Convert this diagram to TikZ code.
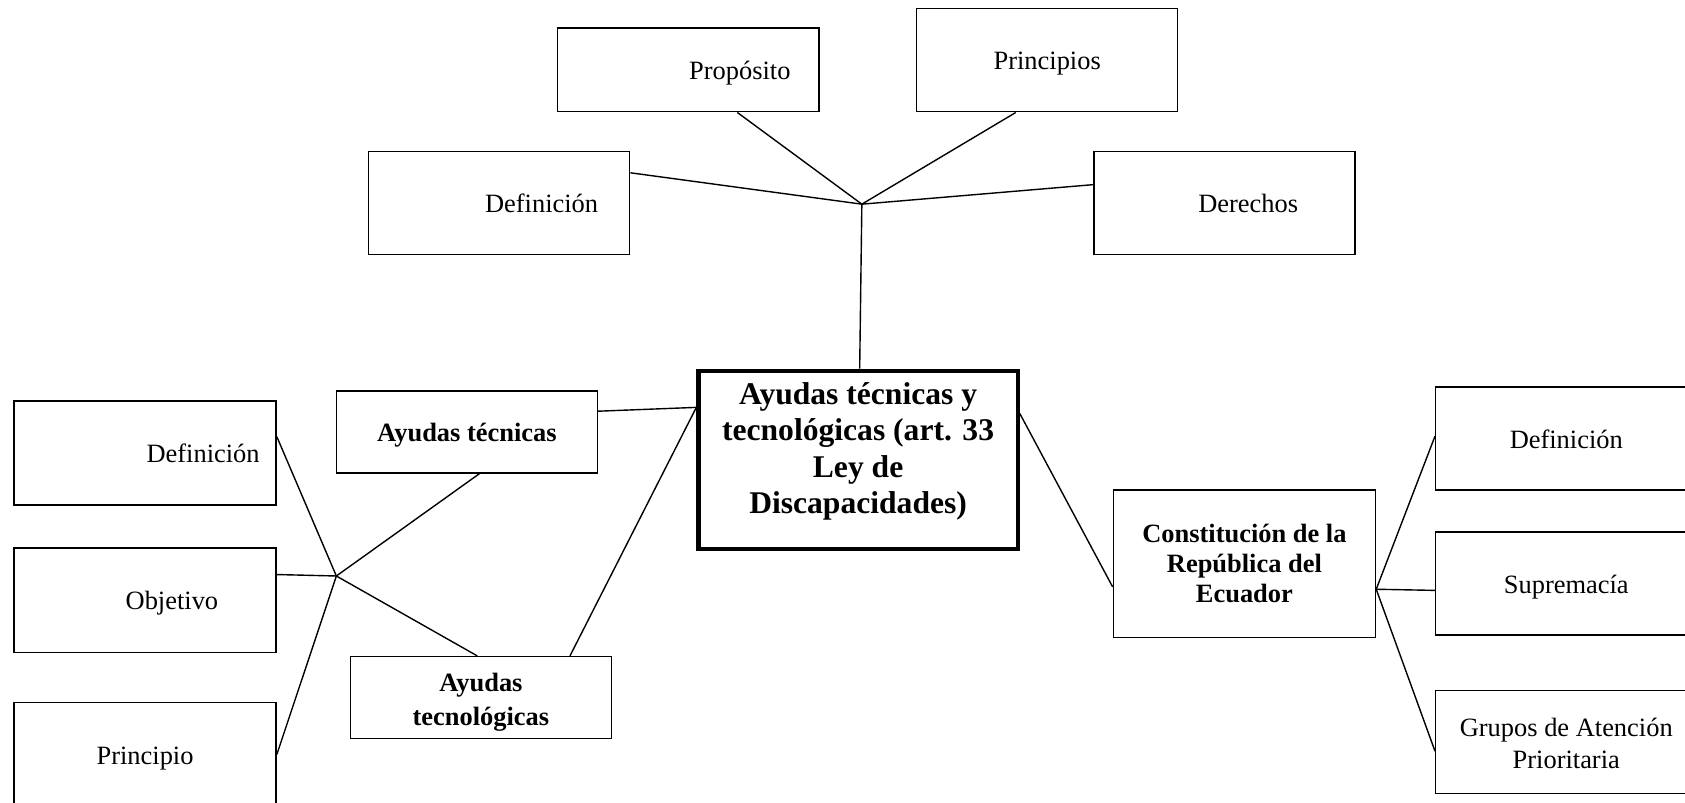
\documentclass[tikz,border=0pt]{standalone}
\usepackage{fontspec}
\setmainfont{Liberation Serif}
\begin{document}
\begin{tikzpicture}[x=0.5pt,y=-0.5pt,
  caja/.style={draw,line width=0.65pt,minimum width=121.5pt,minimum height=48pt,inner sep=0pt,align=center,font=\fontsize{12.3}{14.7}\selectfont},
  cajab/.style={caja,font=\bfseries\fontsize{12.3}{14}\selectfont},
  simple/.style={text height=11.8pt,text depth=2.7pt},
  linea/.style={line width=0.65pt}]
  \useasboundingbox (0,0) rectangle (1568,747);
  \clip (0,0) rectangle (1568,747);
  % arriba
  \node [caja,simple,minimum height=39pt] (prop) at (640.5,65) {\hspace*{48pt}Propósito};
  \node [caja,simple] (princ) at (974.5,56) {Principios};
  \node [caja,simple] (tdef) at (464.5,189) {\hspace*{39.5pt}Definición};
  \node [caja,simple] (der) at (1139.5,189) {\hspace*{22pt}Derechos};
  \coordinate (htop) at (802,190);
  % centro
  \node [caja,line width=2pt,minimum width=148.5pt,minimum height=83pt,
    font=\bfseries\fontsize{14.7}{17}\selectfont] (cent) at (798.5,428)
    {Ayudas técnicas y\\tecnológicas (art. 33\\Ley de\\Discapacidades)\rule[-11pt]{0pt}{11pt}};
  % izquierda
  \node [cajab,simple,minimum height=38pt] (aytec) at (434.5,402) {Ayudas técnicas};
  \node [cajab,minimum height=38pt,font=\bfseries\fontsize{12.3}{15.5}\selectfont] (aytecn) at (447.5,649)
    {\rule{0pt}{12.9pt}Ayudas\\tecnológicas};
  \node [caja,simple,minimum width=122pt,minimum height=48.5pt] (ldef) at (135,421.5) {\hspace*{54pt}Definición};
  \node [caja,simple,minimum width=122pt,minimum height=48.5pt] (obj) at (135,558.5) {\hspace*{25pt}Objetivo};
  \node [caja,simple,minimum width=122pt,minimum height=48.5pt] (lprin) at (135,702) {Principio};
  \coordinate (hizq) at (313,536);
  % derecha
  \node [cajab,minimum width=122pt,minimum height=68.5pt] (const) at (1158,524.5) {Constitución de la\\República del\\Ecuador};
  \node [caja,simple] (rdef) at (1457.5,408) {Definición};
  \node [caja,simple] (sup) at (1457.5,543) {Supremacía};
  \node [caja] (grupos) at (1457.5,690.5) {\rule{0pt}{9.8pt}Grupos de Atención\\Prioritaria};
  % conectores
  \draw [linea] (prop.319) -- (htop);
  \draw [linea] (princ.239) -- (htop);
  \draw [linea] (tdef.13) -- (htop);
  \draw [linea] (der.172) -- (htop);
  \draw [linea] (htop) -- (cent.89);
  \draw [linea] (aytec.9) -- (cent.162);
  \draw [linea] (aytecn.25) -- (cent.162);
  \draw [linea] (cent.16) -- (const.190);
  \draw [linea] (ldef.7) -- (hizq);
  \draw [linea] (obj.11) -- (hizq);
  \draw [linea] (lprin.0) -- (hizq);
  \draw [linea] (aytec.287) -- (hizq);
  \draw [linea] (aytecn.95) -- (hizq);
  \draw [linea] (const.349) -- (rdef.179);
  \draw [linea] (const.349) -- (sup.183);
  \draw [linea] (const.349) -- (grupos.184);
\end{tikzpicture}
\end{document}
